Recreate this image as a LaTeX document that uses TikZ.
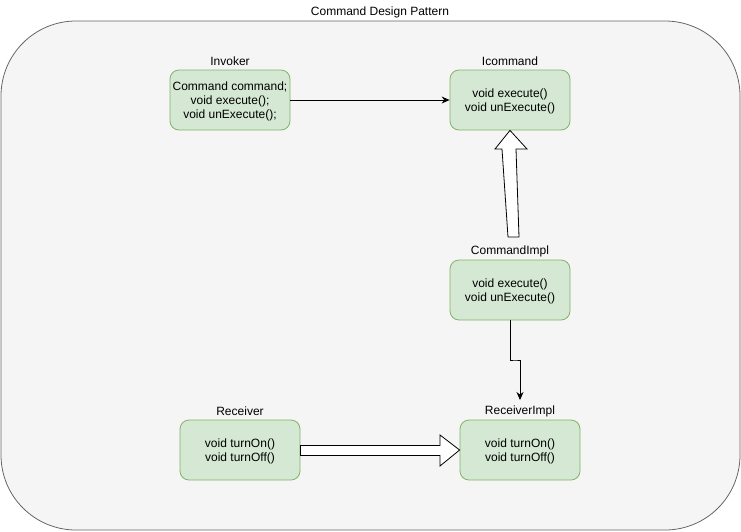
\documentclass[tikz,border=0pt]{standalone}
\usepackage{fontspec}
\setmainfont{Liberation Sans}
\usetikzlibrary{arrows.meta}
\definecolor{contfill}{HTML}{F5F5F5}
\definecolor{contline}{HTML}{666666}
\definecolor{boxfill}{HTML}{D5E8D4}
\definecolor{boxline}{HTML}{82B366}
\begin{document}
\begin{tikzpicture}[x=1pt,y=-1pt,
  txt/.style={font=\fontsize{12}{14}\selectfont, inner sep=0pt, align=center, yshift=-1.5pt},
  umlbox/.style={draw=boxline, fill=boxfill, rounded corners=9pt, minimum width=120pt, minimum height=60pt, inner sep=0pt, align=center, font=\fontsize{12}{14}\selectfont, line width=0.8pt, text depth=0pt},
  blockarrow/.style={draw=black, fill=white, line width=0.8pt, line join=miter}
]
\useasboundingbox (0,0) rectangle (741,531);
% container
\node[draw=contline, fill=contfill, rounded corners=75pt, line width=0.8pt, minimum width=739pt, minimum height=509pt, inner sep=0pt] (cont) at (370.5,275.5) {};
\node[txt] (title) at (380,11) {Command Design Pattern};
% boxes
\node[umlbox] (inv) at (230,100) {Command command;\\void execute();\\void unExecute();};
\node[txt] (invl) at (230,60) {Invoker};
\node[umlbox] (icmd) at (510,100) {void execute()\\void unExecute()};
\node[txt] (icmdl) at (510,60) {Icommand};
\node[umlbox] (cimpl) at (510,290) {void execute()\\void unExecute()};
\node[txt] (cimpll) at (510,250) {CommandImpl};
\node[umlbox] (recv) at (240,450) {void turnOn()\\void turnOff()};
\node[txt] (recvl) at (240,410) {Receiver};
\node[umlbox] (rimpl) at (520,450) {void turnOn()\\void turnOff()};
\node[txt] (rimpll) at (520,410) {ReceiverImpl};
% connectors
\draw[line width=0.8pt, -{Stealth[length=8pt,width=7pt]}] (inv.east) -- (icmd.west);
\coordinate (rtop) at (520,400);
\draw[line width=0.8pt, -{Stealth[length=8pt,width=7pt]}] (cimpl.south) |- (515,360) -| (rtop);
% hollow block arrow CommandImpl -> Icommand
\draw[blockarrow] (508,237) -- (502,149) -- (495,149) -- (icmd.south) -- (527,149) -- (516,149) -- (519,237) -- cycle;
% hollow block arrow Receiver -> ReceiverImpl
\draw[blockarrow] (recv.east |- 0,445.5) -- (440,445.5) -- (440,435) -- (rimpl.west) -- (440,466) -- (440,455.5) -- (recv.east |- 0,455.5) -- cycle;
\end{tikzpicture}
\end{document}
